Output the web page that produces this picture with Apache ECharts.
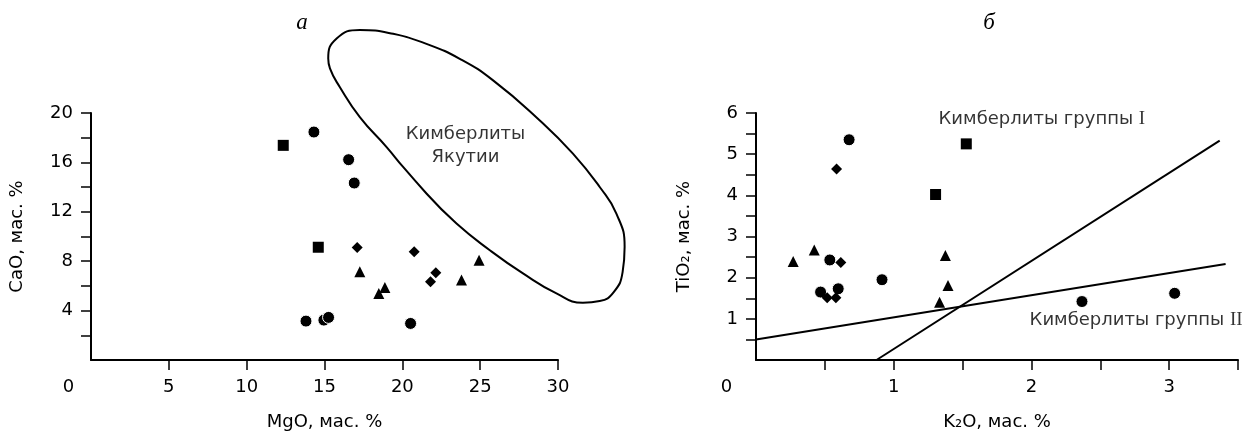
<!DOCTYPE html>
<html>
<head>
<meta charset="utf-8">
<script src="https://cdn.jsdelivr.net/npm/echarts@6/dist/echarts.min.js"></script>
<style>
  html, body { margin: 0; padding: 0; background: #fff; }
  #chart { width: 1247px; height: 432px; }
</style>
</head>
<body>
<div id="chart"></div>
<script>
// panel а: MgO vs CaO (мас. %)
var aCircles = [[14.32, 18.46], [16.55, 16.22], [16.91, 14.33], [13.81, 3.15], [14.96, 3.23], [15.26, 3.45], [20.53, 2.96]]
var aSquares = [[12.35, 17.38], [14.6, 9.13]]
var aDiamonds = [[17.1, 9.11], [20.76, 8.76], [22.15, 7.06], [21.81, 6.33]]
var aTriangles = [[17.27, 7.14], [18.88, 5.87], [18.49, 5.39], [23.8, 6.47], [24.93, 8.08]]
// контур поля кимберлитов Якутии
var yakutiaOutline = [
  [21.55, 13.48], [20.05, 15.63], [18.99, 17.24], [17.27, 19.67], [15.99, 22.09], [15.35, 23.61],
  [15.24, 24.41], [15.78, 26.03], [17.27, 26.73], [19.41, 26.41], [21.55, 25.60], [23.69, 24.39],
  [25.83, 22.64], [28.83, 19.40], [30.96, 16.71], [32.68, 14.01], [33.75, 11.86], [34.28, 9.16],
  [34.15, 7.11], [33.58, 5.50], [32.68, 4.77], [31.60, 4.63], [29.90, 5.39], [27.75, 7.01],
  [25.62, 8.89], [23.48, 11.05], [21.55, 13.48]
]
var aXTicks = [5, 10, 15, 20, 25, 30]
var aXLabels = [0, 5, 10, 15, 20, 25, 30]
var aYTicks = [2, 4, 6, 8, 10, 12, 14, 16, 18, 20]
var aYLabels = [4, 8, 12, 16, 20]

// panel б: K2O vs TiO2 (мас. %)
var bCircles = [[0.676, 5.35], [0.536, 2.43], [0.469, 1.65], [0.597, 1.73], [0.915, 1.95], [2.367, 1.42], [3.04, 1.62]]
var bSquares = [[1.304, 4.02], [1.527, 5.25]]
var bDiamonds = [[0.585, 4.64], [0.616, 2.37], [0.517, 1.51], [0.58, 1.51]]
var bTriangles = [[0.27, 2.39], [0.423, 2.67], [1.375, 2.54], [1.394, 1.81], [1.333, 1.40]]
var lineSteep = [[0.875, 0], [3.367, 5.33]]
var lineFlat = [[0, 0.5], [3.41, 2.33]]
var bXTicks = [0.5, 1, 1.5, 2, 2.5, 3, 3.5]
var bXLabels = [0, 1, 2, 3]
var bYTicks = [0.5, 1, 1.5, 2, 2.5, 3, 3.5, 4, 4.5, 5, 5.5, 6]
var bYLabels = [1, 2, 3, 4, 5, 6]

// подписи полей
var aNote = { pos: [24.06, 17.38], text: 'Кимберлиты\nЯкутии' }
var bNoteI = { pos: [2.076, 5.85], text: 'Кимберлиты группы ', roman: 'I' }
var bNoteII = { pos: [2.76, 0.96], text: 'Кимберлиты группы ', roman: 'II' }

var FONT = 'DejaVu Sans'
var black = '#000'

// сетка панели а и её продолжение за пределы осей (тот же масштаб) для контура
var gridA = { left: 91, top: 113, width: 467, height: 247, outerBoundsMode: 'none' }
var gridB = { left: 756, top: 113, width: 482, height: 247, outerBoundsMode: 'none' }
var aXMax = 30, aYMax = 20, outerXMax = 36, outerYMax = 28
var gridAOuter = {
  left: gridA.left,
  width: gridA.width * outerXMax / aXMax,
  height: gridA.height * outerYMax / aYMax,
  outerBoundsMode: 'none'
}
gridAOuter.top = gridA.top + gridA.height - gridAOuter.height

var chart = echarts.init(document.getElementById('chart'), null, { renderer: 'canvas' })

function xAxis(grid, max, ticks, labels, name, zeroPad) {
  return {
    gridIndex: grid, type: 'value', min: 0, max: max,
    name: name, nameLocation: 'middle', nameGap: 53,
    nameTextStyle: { color: black, fontSize: 18, fontFamily: FONT },
    axisLine: { show: true, onZero: false, lineStyle: { color: black, width: 2 } },
    axisTick: { show: true, length: 10, customValues: ticks, lineStyle: { color: black, width: 1.5 } },
    axisLabel: {
      customValues: labels, margin: 18, color: black, fontSize: 18, fontFamily: FONT,
      formatter: function(v) { return v === 0 ? '{z|0}' : String(v) },
      rich: { z: { padding: [0, zeroPad, 0, 0], color: black, fontSize: 18, fontFamily: FONT } }
    },
    splitLine: { show: false }
  }
}

function yAxis(grid, max, ticks, labels, name, gap) {
  return {
    gridIndex: grid, type: 'value', min: 0, max: max,
    name: name, nameLocation: 'middle', nameGap: gap,
    nameTextStyle: { color: black, fontSize: 18, fontFamily: FONT },
    axisLine: { show: true, onZero: false, lineStyle: { color: black, width: 2 } },
    axisTick: { show: true, length: 10, customValues: ticks, lineStyle: { color: black, width: 1.5 } },
    axisLabel: { customValues: labels, margin: 18, color: black, fontSize: 18, fontFamily: FONT },
    splitLine: { show: false }
  }
}

function hiddenAxis(grid, max) {
  return { gridIndex: grid, type: 'value', min: 0, max: max, show: false, splitLine: { show: false } }
}

function points(idx, data, symbol, size) {
  return {
    type: 'scatter', xAxisIndex: idx, yAxisIndex: idx, data: data,
    symbol: symbol, symbolSize: size, silent: true,
    itemStyle: { color: black, borderColor: '#fff', borderWidth: symbol === 'circle' ? 1 : 0, opacity: 1 }
  }
}

function line(idx, data, smooth) {
  return {
    type: 'line', xAxisIndex: idx, yAxisIndex: idx, data: data,
    symbol: 'none', smooth: smooth, clip: false, silent: true,
    lineStyle: { color: black, width: 2 }
  }
}

function note(idx, n, rich) {
  return {
    type: 'scatter', xAxisIndex: idx, yAxisIndex: idx, data: [n.pos],
    symbolSize: 0, silent: true, itemStyle: { color: black },
    label: {
      show: true, position: 'inside', color: black, fontSize: 18, fontFamily: FONT,
      textBorderWidth: 0, lineHeight: 23, align: 'center',
      formatter: rich ? '{t|' + n.text + '}{r|' + n.roman + '}' : n.text,
      rich: {
        t: { color: black, fontSize: 18, fontFamily: FONT, textBorderWidth: 0 },
        r: { color: black, fontSize: 19, fontFamily: 'Liberation Serif', textBorderWidth: 0 }
      }
    }
  }
}

var options = {
  backgroundColor: '#fff',
  animation: false,
  title: [
    { text: 'а', left: 297, top: 6, textAlign: 'center',
      textStyle: { fontFamily: 'Liberation Serif', fontStyle: 'italic', fontWeight: 'normal', fontSize: 23, color: black } },
    { text: 'б', left: 984, top: 6, textAlign: 'center',
      textStyle: { fontFamily: 'Liberation Serif', fontStyle: 'italic', fontWeight: 'normal', fontSize: 23, color: black } }
  ],
  grid: [gridA, gridB, gridAOuter],
  xAxis: [
    xAxis(0, aXMax, aXTicks, aXLabels, 'MgO, мас. %', 45),
    xAxis(1, 3.5, bXTicks, bXLabels, 'K₂O, мас. %', 59),
    hiddenAxis(2, outerXMax)
  ],
  yAxis: [
    yAxis(0, aYMax, aYTicks, aYLabels, 'CaO, мас. %', 65),
    yAxis(1, 6, bYTicks, bYLabels, 'TiO₂, мас. %', 63),
    hiddenAxis(2, outerYMax)
  ],
  series: [
    line(2, yakutiaOutline, 0.5),
    points(0, aCircles, 'circle', 12),
    points(0, aSquares, 'rect', 11),
    points(0, aDiamonds, 'diamond', 11),
    points(0, aTriangles, 'triangle', 11),
    note(0, aNote, false),

    line(1, lineSteep, false),
    line(1, lineFlat, false),
    points(1, bCircles, 'circle', 12),
    points(1, bSquares, 'rect', 11),
    points(1, bDiamonds, 'diamond', 11),
    points(1, bTriangles, 'triangle', 11),
    note(1, bNoteI, true),
    note(1, bNoteII, true)
  ]
}

chart.setOption(options)
</script>
</body>
</html>
